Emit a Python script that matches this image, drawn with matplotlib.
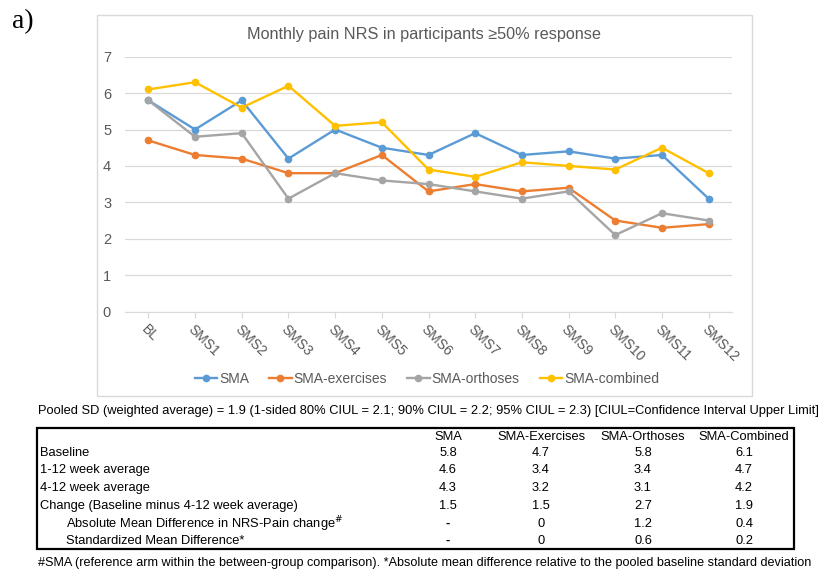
import matplotlib
matplotlib.use('Agg')
import matplotlib.pyplot as plt
from matplotlib.patches import Rectangle
from matplotlib.lines import Line2D

categories = ['BL', 'SMS1', 'SMS2', 'SMS3', 'SMS4', 'SMS5', 'SMS6',
              'SMS7', 'SMS8', 'SMS9', 'SMS10', 'SMS11', 'SMS12']
sma = [5.8, 5.0, 5.8, 4.2, 5.0, 4.5, 4.3, 4.9, 4.3, 4.4, 4.2, 4.3, 3.1]
sma_exercises = [4.7, 4.3, 4.2, 3.8, 3.8, 4.3, 3.3, 3.5, 3.3, 3.4, 2.5, 2.3, 2.4]
sma_orthoses = [5.8, 4.8, 4.9, 3.1, 3.8, 3.6, 3.5, 3.3, 3.1, 3.3, 2.1, 2.7, 2.5]
sma_combined = [6.1, 6.3, 5.6, 6.2, 5.1, 5.2, 3.9, 3.7, 4.1, 4.0, 3.9, 4.5, 3.8]
series_names = ['SMA', 'SMA-exercises', 'SMA-orthoses', 'SMA-combined']
series_colors = ['#5B9BD5', '#ED7D31', '#A5A5A5', '#FFC000']

table_cols = ['SMA', 'SMA-Exercises', 'SMA-Orthoses', 'SMA-Combined']
table_rows = ['Baseline', '1-12 week average', '4-12 week average',
              'Change (Baseline minus 4-12 week average)',
              r'Absolute Mean Difference in NRS-Pain change$^{\#}$',
              'Standardized Mean Difference*']
table_vals = [['5.8', '4.7', '5.8', '6.1'],
              ['4.6', '3.4', '3.4', '4.7'],
              ['4.3', '3.2', '3.1', '4.2'],
              ['1.5', '1.5', '2.7', '1.9'],
              ['-', '0', '1.2', '0.4'],
              ['-', '0', '0.6', '0.2']]
pooled_text = ('Pooled SD (weighted average) = 1.9 (1-sided 80% CIUL = 2.1; 90% CIUL = 2.2; '
               '95% CIUL = 2.3) [CIUL=Confidence Interval Upper Limit]')
foot_text = ('#SMA (reference arm within the between-group comparison). *Absolute mean '
             'difference relative to the pooled baseline standard deviation')

W, H = 836, 577
plt.rcParams['font.family'] = ['Liberation Sans', 'DejaVu Sans']


def px(x, y):
    return x / W, 1 - y / H


fig = plt.figure(figsize=(W / 100, H / 100), dpi=100)

# chart frame
fig.patches.append(Rectangle(px(97, 396), (752 - 97) / W, (396 - 15) / H,
                             transform=fig.transFigure, fill=False,
                             edgecolor='#d9d9d9', lw=1))

l, b = px(125, 311.5)
r, t = px(732, 56.7)
ax = fig.add_axes([l, b, r - l, t - b])
x = range(len(categories))
for vals, name, c in zip([sma, sma_exercises, sma_orthoses, sma_combined], series_names, series_colors):
    ax.plot(x, vals, color=c, lw=1.7, marker='o', ms=4.5, label=name)

ax.set_xlim(-0.5, len(categories) - 0.5)
ax.set_ylim(0, 7)
ax.set_yticks(range(8))
ax.grid(axis='y', color='#d9d9d9', lw=0.9)
ax.set_axisbelow(True)
for s in ['top', 'right', 'left']:
    ax.spines[s].set_visible(False)
ax.spines['bottom'].set_color('#d9d9d9')
ax.tick_params(axis='y', length=0, pad=10, labelsize=10.5, labelcolor='#595959')
ax.tick_params(axis='x', length=4, color='#d9d9d9', labelsize=10, labelcolor='#595959')
ax.set_xticks(list(x))
ax.set_xticklabels(categories, rotation=-45, ha='left', va='top', rotation_mode='anchor')

fig.text(*px(424, 35), 'Monthly pain NRS in participants \u226550% response',
         ha='center', va='center', fontsize=11.7, color='#595959')

handles = [Line2D([], [], color=c, lw=1.7, marker='o', ms=4.5) for c in series_colors]
fig.legend(handles, series_names, loc='center', bbox_to_anchor=px(427, 379), ncol=4,
           frameon=False, fontsize=10, handlelength=1.6, handletextpad=0.15,
           columnspacing=1.45, labelcolor='#595959')

fig.text(*px(12, 22), 'a)', ha='left', va='center', fontsize=20, family='Liberation Serif')

# table below the chart
fig.text(*px(38, 411), pooled_text, ha='left', va='center', fontsize=9.3)
fig.patches.append(Rectangle(px(37, 549), (794 - 37) / W, (549 - 428) / H,
                             transform=fig.transFigure, fill=False,
                             edgecolor='black', lw=1.6))
col_x = [448, 541, 643, 744]
row_y = [437, 453, 470, 488, 506, 524, 541]
for cx, name in zip(col_x, table_cols):
    fig.text(*px(cx, row_y[0]), name, ha='center', va='center', fontsize=9.3)
for i, (ry, name) in enumerate(zip(row_y[1:], table_rows)):
    lx = 66 if i >= 4 else 40
    fig.text(*px(lx, ry), name, ha='left', va='center', fontsize=9.3)
    for cx, v in zip(col_x, table_vals[i]):
        fig.text(*px(cx, ry), v, ha='center', va='center', fontsize=9.3,
                 weight='bold' if v == '-' else 'normal')
fig.text(*px(38, 563), foot_text, ha='left', va='center', fontsize=9.1)

fig.savefig('out.png', dpi=100)
